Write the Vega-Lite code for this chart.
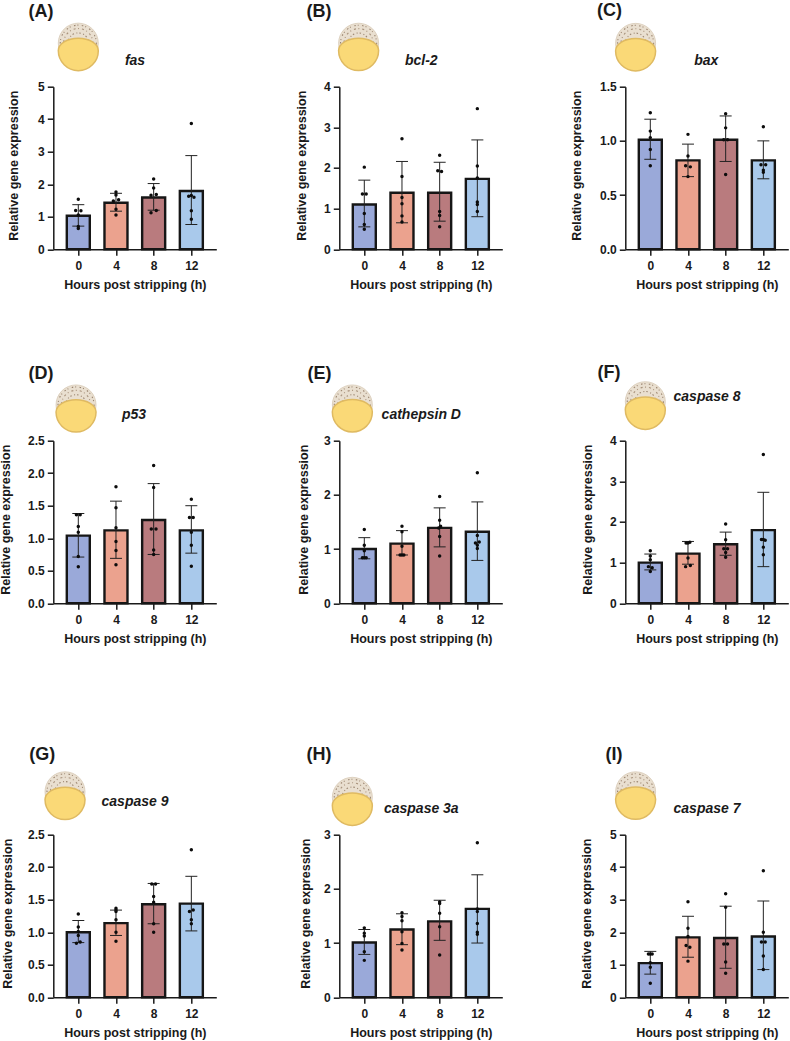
{
"$schema":"https://vega.github.io/schema/vega-lite/v6.json",
"autosize":{"type":"none"},
"padding":{"left":53.3,"top":86.7,"right":736.7,"bottom":954.3},
"background":"white",
"config":{
 "view":{"stroke":null},
 "font":"Liberation Sans",
 "scale":{"continuousPadding":0},
 "axis":{"grid":false,"labelOverlap":false,"domainColor":"#1a1a1a","domainWidth":1.5,"tickColor":"#1a1a1a","tickWidth":1.5,"tickSize":6,"labelFont":"Liberation Sans","labelFontWeight":"bold","labelFontSize":12,"labelColor":"#1a1a1a","labelPadding":3,"titleFont":"Liberation Sans","titleFontWeight":"bold","titleFontSize":12.5,"titleColor":"#1a1a1a"},
 "axisX":{"labelPadding":5,"titlePadding":7},
 "axisY":{"titleY":78.5},
 "bar":{"width":23,"stroke":"#161616","strokeWidth":2.4,"opacity":1},
 "rule":{"color":"#222222","strokeWidth":1},
 "tick":{"color":"#222222","size":12,"thickness":1,"opacity":1},
 "circle":{"color":"#0c0c0c","size":12,"opacity":1},
 "style":{
  "lab":{"fontSize":18,"fontWeight":"bold","align":"center","baseline":"middle","color":"#1a1a1a"},
  "gene":{"fontSize":14,"fontWeight":"bold","fontStyle":"italic","align":"center","baseline":"middle","color":"#1a1a1a"}
 }
},
"vconcat":[
{"vconcat":[
{"hconcat":[
{"width":163,"height":162.5,"data":{"values":[
{"h":0,"mean":1.03,"lo":0.71,"hi":1.37},{"h":4,"mean":1.43,"lo":1.17,"hi":1.72},{"h":8,"mean":1.59,"lo":1.2,"hi":2.02},{"h":12,"mean":1.79,"lo":0.76,"hi":2.88},
{"h":0,"dot":1.54},{"h":-0.28,"dot":1.19},{"h":0.28,"dot":1.18},{"h":0,"dot":1.05},{"h":0,"dot":0.7},{"h":0,"dot":0.64},
{"h":4,"dot":1.76},{"h":4,"dot":1.67},{"h":4.28,"dot":1.52},{"h":3.72,"dot":1.48},{"h":4,"dot":1.23},{"h":4,"dot":1.05},
{"h":8,"dot":2.16},{"h":8,"dot":1.88},{"h":8.28,"dot":1.68},{"h":7.72,"dot":1.66},{"h":8.28,"dot":1.19},{"h":7.72,"dot":1.12},
{"h":12,"dot":3.87},{"h":11.72,"dot":1.63},{"h":12,"dot":1.65},{"h":12.28,"dot":1.6},{"h":12,"dot":1.18},{"h":12,"dot":0.92},
{"h":0,"tan":6.34,"yolk":6.11},{"h":-3.96,"lab":7.3,"t":"(A)"},{"h":6.02,"gene":5.8,"t":"fas"}]},
"encoding":{"x":{"field":"h","type":"quantitative","scale":{"domain":[-2.654,14.65],"nice":false},"axis":{"values":[0,4,8,12],"title":"Hours post stripping (h)"}}},
"layer":[
{"mark":"bar","encoding":{"y":{"field":"mean","type":"quantitative","stack":null,"scale":{"domain":[0,5],"nice":false},"axis":{"values":[0,1,2,3,4,5],"tickCount":6,"format":".0f","title":"Relative gene expression","titlePadding":17}},"color":{"field":"h","type":"nominal","scale":{"domain":[0,4,8,12],"range":["#9aa9d9","#eba28e","#b97b7e","#a9c9eb"]},"legend":null}}},
{"mark":"rule","encoding":{"y":{"field":"lo","type":"quantitative"},"y2":{"field":"hi"}}},
{"mark":{"type":"tick","orient":"horizontal"},"encoding":{"y":{"field":"lo","type":"quantitative"}}},
{"mark":{"type":"tick","orient":"horizontal"},"encoding":{"y":{"field":"hi","type":"quantitative"}}},
{"mark":"circle","encoding":{"y":{"field":"dot","type":"quantitative"}}},
{"mark":{"type":"point","shape":"circle","size":1600,"filled":true,"fill":"#e9dfd0","stroke":"#d8cab6","strokeWidth":0.8,"opacity":1},"encoding":{"y":{"field":"tan","type":"quantitative"}}},
{"mark":{"type":"point","shape":"circle","size":1300,"filled":false,"fill":null,"stroke":"#9b8570","strokeWidth":1.1,"strokeDash":[1.5,2,1,3.5],"opacity":1},"encoding":{"y":{"field":"tan","type":"quantitative"}}},
{"mark":{"type":"point","shape":"circle","size":850,"filled":false,"fill":null,"stroke":"#a8927c","strokeWidth":1.1,"strokeDash":[1,3,2,2.5],"opacity":1},"encoding":{"y":{"field":"tan","type":"quantitative"}}},
{"mark":{"type":"point","shape":"circle","size":420,"filled":false,"fill":null,"stroke":"#9b8570","strokeWidth":1.1,"strokeDash":[1.5,2.5,1,2],"opacity":1},"encoding":{"y":{"field":"tan","type":"quantitative"}}},
{"mark":{"type":"point","shape":"M-1 0A1 0.62 0 0 1 1 0A1 1 0 0 1 -1 0Z","size":1600,"filled":true,"fill":"#fad977","stroke":"#dfba62","strokeWidth":1.5,"opacity":1},"encoding":{"y":{"field":"yolk","type":"quantitative"}}},
{"mark":{"type":"text","style":"lab"},"encoding":{"y":{"field":"lab","type":"quantitative"},"text":{"field":"t"}}},
{"mark":{"type":"text","style":"gene"},"encoding":{"y":{"field":"gene","type":"quantitative"},"text":{"field":"t"}}}
]},
{"width":163,"height":162.5,"data":{"values":[
{"h":0,"mean":1.1,"lo":0.55,"hi":1.7},{"h":4,"mean":1.39,"lo":0.65,"hi":2.16},{"h":8,"mean":1.39,"lo":0.69,"hi":2.14},{"h":12,"mean":1.73,"lo":0.8,"hi":2.69},
{"h":0,"dot":2.02},{"h":-0.2,"dot":1.36},{"h":0.2,"dot":1.36},{"h":0,"dot":0.88},{"h":0,"dot":0.61},{"h":0,"dot":0.49},
{"h":4,"dot":2.72},{"h":4,"dot":1.79},{"h":4,"dot":1.27},{"h":4,"dot":1.12},{"h":4,"dot":0.82},{"h":4,"dot":0.67},
{"h":8,"dot":2.31},{"h":7.8,"dot":1.93},{"h":8.2,"dot":1.91},{"h":8,"dot":0.93},{"h":8,"dot":0.83},{"h":8,"dot":0.55},
{"h":12,"dot":3.46},{"h":12,"dot":2.05},{"h":12,"dot":1.75},{"h":12,"dot":1.16},{"h":12,"dot":1.1},{"h":12,"dot":0.93},
{"h":-0.605,"tan":5.07,"yolk":4.89},{"h":-4.82,"lab":5.84,"t":"(B)"},{"h":6.05,"gene":4.63,"t":"bcl-2"}]},
"encoding":{"x":{"field":"h","type":"quantitative","scale":{"domain":[-2.654,14.65],"nice":false},"axis":{"values":[0,4,8,12],"title":"Hours post stripping (h)"}}},
"layer":[
{"mark":"bar","encoding":{"y":{"field":"mean","type":"quantitative","stack":null,"scale":{"domain":[0,4],"nice":false},"axis":{"values":[0,1,2,3,4],"tickCount":5,"format":".0f","title":"Relative gene expression","titlePadding":15}},"color":{"field":"h","type":"nominal","scale":{"domain":[0,4,8,12],"range":["#9aa9d9","#eba28e","#b97b7e","#a9c9eb"]},"legend":null}}},
{"mark":"rule","encoding":{"y":{"field":"lo","type":"quantitative"},"y2":{"field":"hi"}}},
{"mark":{"type":"tick","orient":"horizontal"},"encoding":{"y":{"field":"lo","type":"quantitative"}}},
{"mark":{"type":"tick","orient":"horizontal"},"encoding":{"y":{"field":"hi","type":"quantitative"}}},
{"mark":"circle","encoding":{"y":{"field":"dot","type":"quantitative"}}},
{"mark":{"type":"point","shape":"circle","size":1600,"filled":true,"fill":"#e9dfd0","stroke":"#d8cab6","strokeWidth":0.8,"opacity":1},"encoding":{"y":{"field":"tan","type":"quantitative"}}},
{"mark":{"type":"point","shape":"circle","size":1300,"filled":false,"fill":null,"stroke":"#9b8570","strokeWidth":1.1,"strokeDash":[1.5,2,1,3.5],"opacity":1},"encoding":{"y":{"field":"tan","type":"quantitative"}}},
{"mark":{"type":"point","shape":"circle","size":850,"filled":false,"fill":null,"stroke":"#a8927c","strokeWidth":1.1,"strokeDash":[1,3,2,2.5],"opacity":1},"encoding":{"y":{"field":"tan","type":"quantitative"}}},
{"mark":{"type":"point","shape":"circle","size":420,"filled":false,"fill":null,"stroke":"#9b8570","strokeWidth":1.1,"strokeDash":[1.5,2.5,1,2],"opacity":1},"encoding":{"y":{"field":"tan","type":"quantitative"}}},
{"mark":{"type":"point","shape":"M-1 0A1 0.62 0 0 1 1 0A1 1 0 0 1 -1 0Z","size":1600,"filled":true,"fill":"#fad977","stroke":"#dfba62","strokeWidth":1.5,"opacity":1},"encoding":{"y":{"field":"yolk","type":"quantitative"}}},
{"mark":{"type":"text","style":"lab"},"encoding":{"y":{"field":"lab","type":"quantitative"},"text":{"field":"t"}}},
{"mark":{"type":"text","style":"gene"},"encoding":{"y":{"field":"gene","type":"quantitative"},"text":{"field":"t"}}}
]},
{"width":163,"height":162.5,"data":{"values":[
{"h":0,"mean":1.01,"lo":0.83,"hi":1.2},{"h":4,"mean":0.82,"lo":0.67,"hi":0.97},{"h":8,"mean":1.01,"lo":0.81,"hi":1.23},{"h":12,"mean":0.82,"lo":0.65,"hi":1.0},
{"h":0,"dot":1.26},{"h":0,"dot":1.09},{"h":0,"dot":1.03},{"h":0,"dot":0.92},{"h":0,"dot":0.77},
{"h":4,"dot":1.06},{"h":4,"dot":0.86},{"h":3.75,"dot":0.77},{"h":4.25,"dot":0.76},{"h":4,"dot":0.67},
{"h":8,"dot":1.25},{"h":8,"dot":1.12},{"h":7.8,"dot":1.01},{"h":8.2,"dot":1.01},{"h":8,"dot":0.69},
{"h":12,"dot":1.13},{"h":11.75,"dot":0.78},{"h":12.25,"dot":0.78},{"h":12,"dot":0.73},{"h":12,"dot":0.71},
{"h":-1.56,"tan":1.9,"yolk":1.83},{"h":-4.32,"lab":2.2,"t":"(C)"},{"h":5.94,"gene":1.74,"t":"bax"}]},
"encoding":{"x":{"field":"h","type":"quantitative","scale":{"domain":[-2.654,14.65],"nice":false},"axis":{"values":[0,4,8,12],"title":"Hours post stripping (h)"}}},
"layer":[
{"mark":"bar","encoding":{"y":{"field":"mean","type":"quantitative","stack":null,"scale":{"domain":[0,1.5],"nice":false},"axis":{"values":[0,0.5,1,1.5],"tickCount":4,"format":".1f","title":"Relative gene expression","titlePadding":16}},"color":{"field":"h","type":"nominal","scale":{"domain":[0,4,8,12],"range":["#9aa9d9","#eba28e","#b97b7e","#a9c9eb"]},"legend":null}}},
{"mark":"rule","encoding":{"y":{"field":"lo","type":"quantitative"},"y2":{"field":"hi"}}},
{"mark":{"type":"tick","orient":"horizontal"},"encoding":{"y":{"field":"lo","type":"quantitative"}}},
{"mark":{"type":"tick","orient":"horizontal"},"encoding":{"y":{"field":"hi","type":"quantitative"}}},
{"mark":"circle","encoding":{"y":{"field":"dot","type":"quantitative"}}},
{"mark":{"type":"point","shape":"circle","size":1600,"filled":true,"fill":"#e9dfd0","stroke":"#d8cab6","strokeWidth":0.8,"opacity":1},"encoding":{"y":{"field":"tan","type":"quantitative"}}},
{"mark":{"type":"point","shape":"circle","size":1300,"filled":false,"fill":null,"stroke":"#9b8570","strokeWidth":1.1,"strokeDash":[1.5,2,1,3.5],"opacity":1},"encoding":{"y":{"field":"tan","type":"quantitative"}}},
{"mark":{"type":"point","shape":"circle","size":850,"filled":false,"fill":null,"stroke":"#a8927c","strokeWidth":1.1,"strokeDash":[1,3,2,2.5],"opacity":1},"encoding":{"y":{"field":"tan","type":"quantitative"}}},
{"mark":{"type":"point","shape":"circle","size":420,"filled":false,"fill":null,"stroke":"#9b8570","strokeWidth":1.1,"strokeDash":[1.5,2.5,1,2],"opacity":1},"encoding":{"y":{"field":"tan","type":"quantitative"}}},
{"mark":{"type":"point","shape":"M-1 0A1 0.62 0 0 1 1 0A1 1 0 0 1 -1 0Z","size":1600,"filled":true,"fill":"#fad977","stroke":"#dfba62","strokeWidth":1.5,"opacity":1},"encoding":{"y":{"field":"yolk","type":"quantitative"}}},
{"mark":{"type":"text","style":"lab"},"encoding":{"y":{"field":"lab","type":"quantitative"},"text":{"field":"t"}}},
{"mark":{"type":"text","style":"gene"},"encoding":{"y":{"field":"gene","type":"quantitative"},"text":{"field":"t"}}}
]}
],"spacing":123,"bounds":"flush"},
{"hconcat":[
{"width":163,"height":162.5,"data":{"values":[
{"h":0,"mean":1.04,"lo":0.71,"hi":1.38},{"h":4,"mean":1.12,"lo":0.69,"hi":1.57},{"h":8,"mean":1.28,"lo":0.75,"hi":1.84},{"h":12,"mean":1.12,"lo":0.77,"hi":1.5},
{"h":-0.2,"dot":1.36},{"h":0.2,"dot":1.36},{"h":0,"dot":1.18},{"h":0,"dot":1.09},{"h":0,"dot":0.72},{"h":0,"dot":0.56},
{"h":4,"dot":1.79},{"h":4,"dot":1.47},{"h":4,"dot":1.16},{"h":4,"dot":0.95},{"h":4,"dot":0.81},{"h":4,"dot":0.59},
{"h":8,"dot":2.12},{"h":8,"dot":1.78},{"h":7.75,"dot":1.14},{"h":8.25,"dot":1.14},{"h":8,"dot":0.82},{"h":8,"dot":0.75},
{"h":12,"dot":1.6},{"h":11.8,"dot":1.32},{"h":12.2,"dot":1.32},{"h":12,"dot":1.09},{"h":12,"dot":0.89},{"h":12,"dot":0.57},
{"h":-0.24,"tan":3.05,"yolk":2.94},{"h":-3.96,"lab":3.52,"t":"(D)"},{"h":5.91,"gene":2.89,"t":"p53"}]},
"encoding":{"x":{"field":"h","type":"quantitative","scale":{"domain":[-2.654,14.65],"nice":false},"axis":{"values":[0,4,8,12],"title":"Hours post stripping (h)"}}},
"layer":[
{"mark":"bar","encoding":{"y":{"field":"mean","type":"quantitative","stack":null,"scale":{"domain":[0,2.5],"nice":false},"axis":{"values":[0,0.5,1,1.5,2,2.5],"tickCount":6,"format":".1f","title":"Relative gene expression","titlePadding":15}},"color":{"field":"h","type":"nominal","scale":{"domain":[0,4,8,12],"range":["#9aa9d9","#eba28e","#b97b7e","#a9c9eb"]},"legend":null}}},
{"mark":"rule","encoding":{"y":{"field":"lo","type":"quantitative"},"y2":{"field":"hi"}}},
{"mark":{"type":"tick","orient":"horizontal"},"encoding":{"y":{"field":"lo","type":"quantitative"}}},
{"mark":{"type":"tick","orient":"horizontal"},"encoding":{"y":{"field":"hi","type":"quantitative"}}},
{"mark":"circle","encoding":{"y":{"field":"dot","type":"quantitative"}}},
{"mark":{"type":"point","shape":"circle","size":1600,"filled":true,"fill":"#e9dfd0","stroke":"#d8cab6","strokeWidth":0.8,"opacity":1},"encoding":{"y":{"field":"tan","type":"quantitative"}}},
{"mark":{"type":"point","shape":"circle","size":1300,"filled":false,"fill":null,"stroke":"#9b8570","strokeWidth":1.1,"strokeDash":[1.5,2,1,3.5],"opacity":1},"encoding":{"y":{"field":"tan","type":"quantitative"}}},
{"mark":{"type":"point","shape":"circle","size":850,"filled":false,"fill":null,"stroke":"#a8927c","strokeWidth":1.1,"strokeDash":[1,3,2,2.5],"opacity":1},"encoding":{"y":{"field":"tan","type":"quantitative"}}},
{"mark":{"type":"point","shape":"circle","size":420,"filled":false,"fill":null,"stroke":"#9b8570","strokeWidth":1.1,"strokeDash":[1.5,2.5,1,2],"opacity":1},"encoding":{"y":{"field":"tan","type":"quantitative"}}},
{"mark":{"type":"point","shape":"M-1 0A1 0.62 0 0 1 1 0A1 1 0 0 1 -1 0Z","size":1600,"filled":true,"fill":"#fad977","stroke":"#dfba62","strokeWidth":1.5,"opacity":1},"encoding":{"y":{"field":"yolk","type":"quantitative"}}},
{"mark":{"type":"text","style":"lab"},"encoding":{"y":{"field":"lab","type":"quantitative"},"text":{"field":"t"}}},
{"mark":{"type":"text","style":"gene"},"encoding":{"y":{"field":"gene","type":"quantitative"},"text":{"field":"t"}}}
]},
{"width":163,"height":162.5,"data":{"values":[
{"h":0,"mean":1.0,"lo":0.82,"hi":1.21},{"h":4,"mean":1.1,"lo":0.89,"hi":1.34},{"h":8,"mean":1.39,"lo":1.04,"hi":1.76},{"h":12,"mean":1.32,"lo":0.79,"hi":1.87},
{"h":0,"dot":1.36},{"h":0,"dot":1.07},{"h":0,"dot":0.97},{"h":-0.2,"dot":0.84},{"h":0.2,"dot":0.84},{"h":0,"dot":0.84},
{"h":4,"dot":1.42},{"h":4,"dot":1.32},{"h":4,"dot":1.05},{"h":3.8,"dot":0.89},{"h":4.2,"dot":0.89},{"h":4,"dot":0.89},
{"h":8,"dot":1.97},{"h":8,"dot":1.53},{"h":8.1,"dot":1.42},{"h":7.9,"dot":1.39},{"h":8,"dot":1.23},{"h":8,"dot":0.87},
{"h":12,"dot":2.41},{"h":12,"dot":1.25},{"h":12.2,"dot":1.13},{"h":11.8,"dot":1.11},{"h":12,"dot":1.07},{"h":12,"dot":1.01},
{"h":-1.27,"tan":3.66,"yolk":3.53},{"h":-4.75,"lab":4.23,"t":"(E)"},{"h":6.05,"gene":3.47,"t":"cathepsin D"}]},
"encoding":{"x":{"field":"h","type":"quantitative","scale":{"domain":[-2.654,14.65],"nice":false},"axis":{"values":[0,4,8,12],"title":"Hours post stripping (h)"}}},
"layer":[
{"mark":"bar","encoding":{"y":{"field":"mean","type":"quantitative","stack":null,"scale":{"domain":[0,3],"nice":false},"axis":{"values":[0,1,2,3],"tickCount":4,"format":".0f","title":"Relative gene expression","titlePadding":13}},"color":{"field":"h","type":"nominal","scale":{"domain":[0,4,8,12],"range":["#9aa9d9","#eba28e","#b97b7e","#a9c9eb"]},"legend":null}}},
{"mark":"rule","encoding":{"y":{"field":"lo","type":"quantitative"},"y2":{"field":"hi"}}},
{"mark":{"type":"tick","orient":"horizontal"},"encoding":{"y":{"field":"lo","type":"quantitative"}}},
{"mark":{"type":"tick","orient":"horizontal"},"encoding":{"y":{"field":"hi","type":"quantitative"}}},
{"mark":"circle","encoding":{"y":{"field":"dot","type":"quantitative"}}},
{"mark":{"type":"point","shape":"circle","size":1600,"filled":true,"fill":"#e9dfd0","stroke":"#d8cab6","strokeWidth":0.8,"opacity":1},"encoding":{"y":{"field":"tan","type":"quantitative"}}},
{"mark":{"type":"point","shape":"circle","size":1300,"filled":false,"fill":null,"stroke":"#9b8570","strokeWidth":1.1,"strokeDash":[1.5,2,1,3.5],"opacity":1},"encoding":{"y":{"field":"tan","type":"quantitative"}}},
{"mark":{"type":"point","shape":"circle","size":850,"filled":false,"fill":null,"stroke":"#a8927c","strokeWidth":1.1,"strokeDash":[1,3,2,2.5],"opacity":1},"encoding":{"y":{"field":"tan","type":"quantitative"}}},
{"mark":{"type":"point","shape":"circle","size":420,"filled":false,"fill":null,"stroke":"#9b8570","strokeWidth":1.1,"strokeDash":[1.5,2.5,1,2],"opacity":1},"encoding":{"y":{"field":"tan","type":"quantitative"}}},
{"mark":{"type":"point","shape":"M-1 0A1 0.62 0 0 1 1 0A1 1 0 0 1 -1 0Z","size":1600,"filled":true,"fill":"#fad977","stroke":"#dfba62","strokeWidth":1.5,"opacity":1},"encoding":{"y":{"field":"yolk","type":"quantitative"}}},
{"mark":{"type":"text","style":"lab"},"encoding":{"y":{"field":"lab","type":"quantitative"},"text":{"field":"t"}}},
{"mark":{"type":"text","style":"gene"},"encoding":{"y":{"field":"gene","type":"quantitative"},"text":{"field":"t"}}}
]},
{"width":163,"height":162.5,"data":{"values":[
{"h":0,"mean":1.0,"lo":0.82,"hi":1.21},{"h":4,"mean":1.22,"lo":0.96,"hi":1.52},{"h":8,"mean":1.45,"lo":1.18,"hi":1.75},{"h":12,"mean":1.8,"lo":0.9,"hi":2.73},
{"h":0,"dot":1.29},{"h":0,"dot":1.16},{"h":0,"dot":1.07},{"h":-0.2,"dot":0.9},{"h":0.2,"dot":0.87},{"h":0,"dot":0.78},
{"h":3.8,"dot":1.48},{"h":4.2,"dot":1.5},{"h":4,"dot":1.48},{"h":4,"dot":1.11},{"h":4.25,"dot":0.93},{"h":3.75,"dot":0.9},
{"h":8,"dot":1.95},{"h":8,"dot":1.56},{"h":7.8,"dot":1.34},{"h":8.2,"dot":1.34},{"h":8,"dot":1.25},{"h":8,"dot":1.13},
{"h":12,"dot":3.66},{"h":11.8,"dot":1.57},{"h":12.2,"dot":1.55},{"h":12,"dot":1.57},{"h":12,"dot":1.38},{"h":12,"dot":1.19},
{"h":-0.53,"tan":4.96,"yolk":4.77},{"h":-4.38,"lab":5.67,"t":"(F)"},{"h":6.02,"gene":5.07,"t":"caspase 8"}]},
"encoding":{"x":{"field":"h","type":"quantitative","scale":{"domain":[-2.654,14.65],"nice":false},"axis":{"values":[0,4,8,12],"title":"Hours post stripping (h)"}}},
"layer":[
{"mark":"bar","encoding":{"y":{"field":"mean","type":"quantitative","stack":null,"scale":{"domain":[0,4],"nice":false},"axis":{"values":[0,1,2,3,4],"tickCount":5,"format":".0f","title":"Relative gene expression","titlePadding":15.5}},"color":{"field":"h","type":"nominal","scale":{"domain":[0,4,8,12],"range":["#9aa9d9","#eba28e","#b97b7e","#a9c9eb"]},"legend":null}}},
{"mark":"rule","encoding":{"y":{"field":"lo","type":"quantitative"},"y2":{"field":"hi"}}},
{"mark":{"type":"tick","orient":"horizontal"},"encoding":{"y":{"field":"lo","type":"quantitative"}}},
{"mark":{"type":"tick","orient":"horizontal"},"encoding":{"y":{"field":"hi","type":"quantitative"}}},
{"mark":"circle","encoding":{"y":{"field":"dot","type":"quantitative"}}},
{"mark":{"type":"point","shape":"circle","size":1600,"filled":true,"fill":"#e9dfd0","stroke":"#d8cab6","strokeWidth":0.8,"opacity":1},"encoding":{"y":{"field":"tan","type":"quantitative"}}},
{"mark":{"type":"point","shape":"circle","size":1300,"filled":false,"fill":null,"stroke":"#9b8570","strokeWidth":1.1,"strokeDash":[1.5,2,1,3.5],"opacity":1},"encoding":{"y":{"field":"tan","type":"quantitative"}}},
{"mark":{"type":"point","shape":"circle","size":850,"filled":false,"fill":null,"stroke":"#a8927c","strokeWidth":1.1,"strokeDash":[1,3,2,2.5],"opacity":1},"encoding":{"y":{"field":"tan","type":"quantitative"}}},
{"mark":{"type":"point","shape":"circle","size":420,"filled":false,"fill":null,"stroke":"#9b8570","strokeWidth":1.1,"strokeDash":[1.5,2.5,1,2],"opacity":1},"encoding":{"y":{"field":"tan","type":"quantitative"}}},
{"mark":{"type":"point","shape":"M-1 0A1 0.62 0 0 1 1 0A1 1 0 0 1 -1 0Z","size":1600,"filled":true,"fill":"#fad977","stroke":"#dfba62","strokeWidth":1.5,"opacity":1},"encoding":{"y":{"field":"yolk","type":"quantitative"}}},
{"mark":{"type":"text","style":"lab"},"encoding":{"y":{"field":"lab","type":"quantitative"},"text":{"field":"t"}}},
{"mark":{"type":"text","style":"gene"},"encoding":{"y":{"field":"gene","type":"quantitative"},"text":{"field":"t"}}}
]}
],"spacing":123,"bounds":"flush"}
],"spacing":354,"bounds":"flush"},
{"hconcat":[
{"width":163,"height":162.5,"data":{"values":[
{"h":0,"mean":1.0,"lo":0.84,"hi":1.18},{"h":4,"mean":1.14,"lo":0.95,"hi":1.34},{"h":8,"mean":1.43,"lo":1.13,"hi":1.75},{"h":12,"mean":1.44,"lo":1.02,"hi":1.86},
{"h":0,"dot":1.28},{"h":0,"dot":1.08},{"h":0,"dot":1.01},{"h":0.2,"dot":0.85},{"h":-0.2,"dot":0.83},{"h":0,"dot":0.95},
{"h":4,"dot":1.37},{"h":4,"dot":1.32},{"h":4,"dot":1.19},{"h":4,"dot":1.0},{"h":4,"dot":0.86},{"h":4,"dot":1.34},
{"h":7.8,"dot":1.74},{"h":8.2,"dot":1.74},{"h":8,"dot":1.55},{"h":8,"dot":1.46},{"h":8,"dot":1.13},{"h":8,"dot":1.0},
{"h":12,"dot":2.27},{"h":12.2,"dot":1.34},{"h":11.8,"dot":1.32},{"h":12,"dot":1.19},{"h":12,"dot":1.13},
{"h":-1.41,"tan":3.16,"yolk":3.04},{"h":-3.82,"lab":3.73,"t":"(G)"},{"h":6.02,"gene":3.0,"t":"caspase 9"}]},
"encoding":{"x":{"field":"h","type":"quantitative","scale":{"domain":[-2.654,14.65],"nice":false},"axis":{"values":[0,4,8,12],"title":"Hours post stripping (h)"}}},
"layer":[
{"mark":"bar","encoding":{"y":{"field":"mean","type":"quantitative","stack":null,"scale":{"domain":[0,2.5],"nice":false},"axis":{"values":[0,0.5,1,1.5,2,2.5],"tickCount":6,"format":".1f","title":"Relative gene expression","titlePadding":13.5}},"color":{"field":"h","type":"nominal","scale":{"domain":[0,4,8,12],"range":["#9aa9d9","#eba28e","#b97b7e","#a9c9eb"]},"legend":null}}},
{"mark":"rule","encoding":{"y":{"field":"lo","type":"quantitative"},"y2":{"field":"hi"}}},
{"mark":{"type":"tick","orient":"horizontal"},"encoding":{"y":{"field":"lo","type":"quantitative"}}},
{"mark":{"type":"tick","orient":"horizontal"},"encoding":{"y":{"field":"hi","type":"quantitative"}}},
{"mark":"circle","encoding":{"y":{"field":"dot","type":"quantitative"}}},
{"mark":{"type":"point","shape":"circle","size":1600,"filled":true,"fill":"#e9dfd0","stroke":"#d8cab6","strokeWidth":0.8,"opacity":1},"encoding":{"y":{"field":"tan","type":"quantitative"}}},
{"mark":{"type":"point","shape":"circle","size":1300,"filled":false,"fill":null,"stroke":"#9b8570","strokeWidth":1.1,"strokeDash":[1.5,2,1,3.5],"opacity":1},"encoding":{"y":{"field":"tan","type":"quantitative"}}},
{"mark":{"type":"point","shape":"circle","size":850,"filled":false,"fill":null,"stroke":"#a8927c","strokeWidth":1.1,"strokeDash":[1,3,2,2.5],"opacity":1},"encoding":{"y":{"field":"tan","type":"quantitative"}}},
{"mark":{"type":"point","shape":"circle","size":420,"filled":false,"fill":null,"stroke":"#9b8570","strokeWidth":1.1,"strokeDash":[1.5,2.5,1,2],"opacity":1},"encoding":{"y":{"field":"tan","type":"quantitative"}}},
{"mark":{"type":"point","shape":"M-1 0A1 0.62 0 0 1 1 0A1 1 0 0 1 -1 0Z","size":1600,"filled":true,"fill":"#fad977","stroke":"#dfba62","strokeWidth":1.5,"opacity":1},"encoding":{"y":{"field":"yolk","type":"quantitative"}}},
{"mark":{"type":"text","style":"lab"},"encoding":{"y":{"field":"lab","type":"quantitative"},"text":{"field":"t"}}},
{"mark":{"type":"text","style":"gene"},"encoding":{"y":{"field":"gene","type":"quantitative"},"text":{"field":"t"}}}
]},
{"width":163,"height":162.5,"data":{"values":[
{"h":0,"mean":1.01,"lo":0.79,"hi":1.25},{"h":4,"mean":1.25,"lo":0.97,"hi":1.54},{"h":8,"mean":1.4,"lo":1.05,"hi":1.79},{"h":12,"mean":1.63,"lo":1.0,"hi":2.26},
{"h":0,"dot":1.28},{"h":0,"dot":1.18},{"h":0,"dot":1.13},{"h":0,"dot":0.84},{"h":0,"dot":0.68},
{"h":4,"dot":1.56},{"h":4,"dot":1.41},{"h":4,"dot":1.21},{"h":4,"dot":0.99},{"h":4,"dot":0.87},{"h":4,"dot":1.49},
{"h":8,"dot":1.76},{"h":8,"dot":1.73},{"h":8,"dot":1.55},{"h":8,"dot":1.3},{"h":8,"dot":0.78},
{"h":12,"dot":2.85},{"h":12,"dot":1.63},{"h":12,"dot":1.58},{"h":12,"dot":1.36},{"h":12,"dot":1.2},{"h":12,"dot":1.16},
{"h":-1.27,"tan":3.69,"yolk":3.54},{"h":-4.82,"lab":4.47,"t":"(H)"},{"h":6.05,"gene":3.47,"t":"caspase 3a"}]},
"encoding":{"x":{"field":"h","type":"quantitative","scale":{"domain":[-2.654,14.65],"nice":false},"axis":{"values":[0,4,8,12],"title":"Hours post stripping (h)"}}},
"layer":[
{"mark":"bar","encoding":{"y":{"field":"mean","type":"quantitative","stack":null,"scale":{"domain":[0,3],"nice":false},"axis":{"values":[0,1,2,3],"tickCount":4,"format":".0f","title":"Relative gene expression","titlePadding":11}},"color":{"field":"h","type":"nominal","scale":{"domain":[0,4,8,12],"range":["#9aa9d9","#eba28e","#b97b7e","#a9c9eb"]},"legend":null}}},
{"mark":"rule","encoding":{"y":{"field":"lo","type":"quantitative"},"y2":{"field":"hi"}}},
{"mark":{"type":"tick","orient":"horizontal"},"encoding":{"y":{"field":"lo","type":"quantitative"}}},
{"mark":{"type":"tick","orient":"horizontal"},"encoding":{"y":{"field":"hi","type":"quantitative"}}},
{"mark":"circle","encoding":{"y":{"field":"dot","type":"quantitative"}}},
{"mark":{"type":"point","shape":"circle","size":1600,"filled":true,"fill":"#e9dfd0","stroke":"#d8cab6","strokeWidth":0.8,"opacity":1},"encoding":{"y":{"field":"tan","type":"quantitative"}}},
{"mark":{"type":"point","shape":"circle","size":1300,"filled":false,"fill":null,"stroke":"#9b8570","strokeWidth":1.1,"strokeDash":[1.5,2,1,3.5],"opacity":1},"encoding":{"y":{"field":"tan","type":"quantitative"}}},
{"mark":{"type":"point","shape":"circle","size":850,"filled":false,"fill":null,"stroke":"#a8927c","strokeWidth":1.1,"strokeDash":[1,3,2,2.5],"opacity":1},"encoding":{"y":{"field":"tan","type":"quantitative"}}},
{"mark":{"type":"point","shape":"circle","size":420,"filled":false,"fill":null,"stroke":"#9b8570","strokeWidth":1.1,"strokeDash":[1.5,2.5,1,2],"opacity":1},"encoding":{"y":{"field":"tan","type":"quantitative"}}},
{"mark":{"type":"point","shape":"M-1 0A1 0.62 0 0 1 1 0A1 1 0 0 1 -1 0Z","size":1600,"filled":true,"fill":"#fad977","stroke":"#dfba62","strokeWidth":1.5,"opacity":1},"encoding":{"y":{"field":"yolk","type":"quantitative"}}},
{"mark":{"type":"text","style":"lab"},"encoding":{"y":{"field":"lab","type":"quantitative"},"text":{"field":"t"}}},
{"mark":{"type":"text","style":"gene"},"encoding":{"y":{"field":"gene","type":"quantitative"},"text":{"field":"t"}}}
]},
{"width":163,"height":162.5,"data":{"values":[
{"h":0,"mean":1.05,"lo":0.71,"hi":1.41},{"h":4,"mean":1.84,"lo":1.23,"hi":2.49},{"h":8,"mean":1.82,"lo":0.89,"hi":2.8},{"h":12,"mean":1.87,"lo":0.85,"hi":2.96},
{"h":-0.2,"dot":1.33},{"h":0.2,"dot":1.33},{"h":0,"dot":1.06},{"h":0,"dot":0.92},{"h":0,"dot":0.43},{"h":0,"dot":1.33},
{"h":4,"dot":2.94},{"h":4,"dot":2.12},{"h":4,"dot":1.87},{"h":3.8,"dot":1.59},{"h":4.2,"dot":1.54},{"h":4,"dot":1.11},
{"h":8,"dot":3.18},{"h":8,"dot":2.77},{"h":7.8,"dot":1.64},{"h":8.2,"dot":1.64},{"h":8,"dot":1.08},{"h":8,"dot":0.74},
{"h":12,"dot":3.89},{"h":12,"dot":2.0},{"h":11.8,"dot":1.7},{"h":12.2,"dot":1.7},{"h":12,"dot":1.27},{"h":12,"dot":0.85},
{"h":-1.56,"tan":6.32,"yolk":6.09},{"h":-3.85,"lab":7.45,"t":"(I)"},{"h":6.02,"gene":5.8,"t":"caspase 7"}]},
"encoding":{"x":{"field":"h","type":"quantitative","scale":{"domain":[-2.654,14.65],"nice":false},"axis":{"values":[0,4,8,12],"title":"Hours post stripping (h)"}}},
"layer":[
{"mark":"bar","encoding":{"y":{"field":"mean","type":"quantitative","stack":null,"scale":{"domain":[0,5],"nice":false},"axis":{"values":[0,1,2,3,4,5],"tickCount":6,"format":".0f","title":"Relative gene expression","titlePadding":16}},"color":{"field":"h","type":"nominal","scale":{"domain":[0,4,8,12],"range":["#9aa9d9","#eba28e","#b97b7e","#a9c9eb"]},"legend":null}}},
{"mark":"rule","encoding":{"y":{"field":"lo","type":"quantitative"},"y2":{"field":"hi"}}},
{"mark":{"type":"tick","orient":"horizontal"},"encoding":{"y":{"field":"lo","type":"quantitative"}}},
{"mark":{"type":"tick","orient":"horizontal"},"encoding":{"y":{"field":"hi","type":"quantitative"}}},
{"mark":"circle","encoding":{"y":{"field":"dot","type":"quantitative"}}},
{"mark":{"type":"point","shape":"circle","size":1600,"filled":true,"fill":"#e9dfd0","stroke":"#d8cab6","strokeWidth":0.8,"opacity":1},"encoding":{"y":{"field":"tan","type":"quantitative"}}},
{"mark":{"type":"point","shape":"circle","size":1300,"filled":false,"fill":null,"stroke":"#9b8570","strokeWidth":1.1,"strokeDash":[1.5,2,1,3.5],"opacity":1},"encoding":{"y":{"field":"tan","type":"quantitative"}}},
{"mark":{"type":"point","shape":"circle","size":850,"filled":false,"fill":null,"stroke":"#a8927c","strokeWidth":1.1,"strokeDash":[1,3,2,2.5],"opacity":1},"encoding":{"y":{"field":"tan","type":"quantitative"}}},
{"mark":{"type":"point","shape":"circle","size":420,"filled":false,"fill":null,"stroke":"#9b8570","strokeWidth":1.1,"strokeDash":[1.5,2.5,1,2],"opacity":1},"encoding":{"y":{"field":"tan","type":"quantitative"}}},
{"mark":{"type":"point","shape":"M-1 0A1 0.62 0 0 1 1 0A1 1 0 0 1 -1 0Z","size":1600,"filled":true,"fill":"#fad977","stroke":"#dfba62","strokeWidth":1.5,"opacity":1},"encoding":{"y":{"field":"yolk","type":"quantitative"}}},
{"mark":{"type":"text","style":"lab"},"encoding":{"y":{"field":"lab","type":"quantitative"},"text":{"field":"t"}}},
{"mark":{"type":"text","style":"gene"},"encoding":{"y":{"field":"gene","type":"quantitative"},"text":{"field":"t"}}}
]}
],"spacing":123,"bounds":"flush"}
],"spacing":748,"bounds":"flush"}
